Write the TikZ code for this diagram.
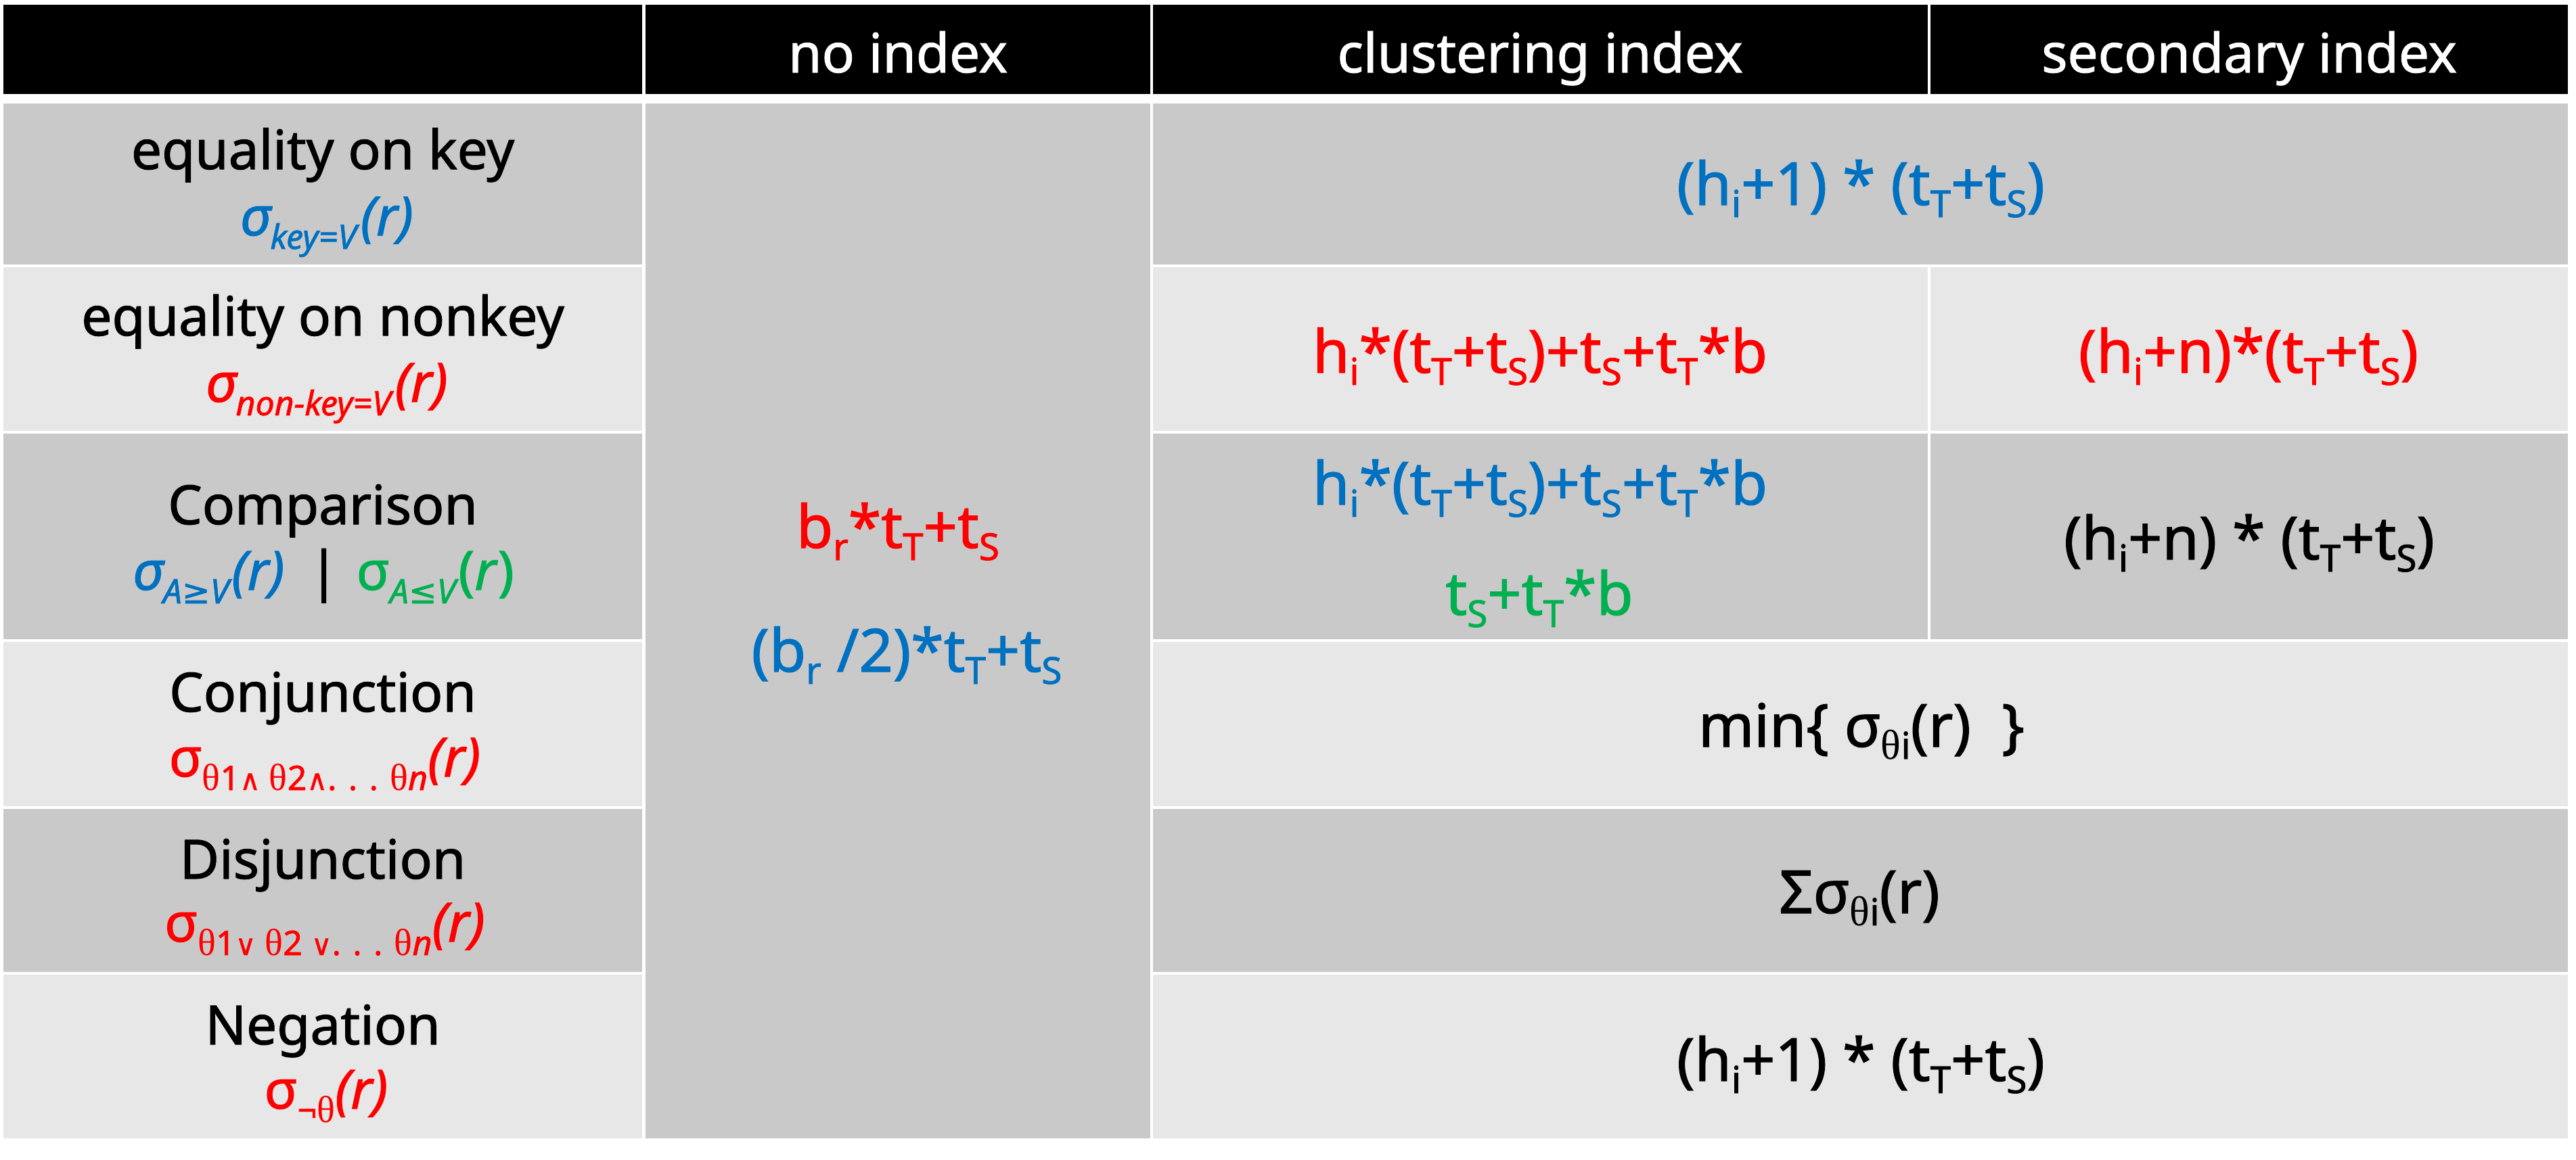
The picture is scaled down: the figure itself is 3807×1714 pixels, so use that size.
\documentclass[tikz,border=0pt]{standalone}
\usepackage{fontspec}
\setmainfont{Noto Sans}[FakeBold=1.4]
\newfontfamily\serf{Liberation Serif}
\newfontfamily\dvs{DejaVu Sans}[FakeBold=1.0]
\definecolor{cblue}{HTML}{0070C0}
\definecolor{cred}{HTML}{FF0000}
\definecolor{cgreen}{HTML}{00B050}
\definecolor{cdark}{HTML}{C9C9C9}
\definecolor{clight}{HTML}{E7E7E7}
\newcommand\fsz[1]{\fontsize{#1}{#1}\selectfont}
\newcommand\dn[1]{\raisebox{-18pt}{\fsz{55}#1}}
\newcommand\lo[1]{\raisebox{-20pt}{\fsz{50}#1}}
\newcommand\myand{{\dvs\fsz{42}∧}}
\newcommand\myor{{\dvs\fsz{42}∨}}
\tikzset{
  hdrcell/.style={fill=black},
  dk/.style={fill=cdark},
  lt/.style={fill=clight},
  hdr/.style={anchor=base,inner sep=0pt,text=white,font=\fsz{80}},
  lab/.style={anchor=base,inner sep=0pt,font=\fsz{80}},
  frm/.style={anchor=base,inner sep=0pt,font=\fsz{88}}
}
\begin{document}
\begin{tikzpicture}[x=1pt,y=-1pt]
\useasboundingbox (0,0) rectangle (3807,1714);
\fill[white] (0,0) rectangle (3807,1714);
% header
\fill[hdrcell] (5,7) rectangle (949,139);
\fill[hdrcell] (954,7) rectangle (1700,139);
\fill[hdrcell] (1704,7) rectangle (2849,139);
\fill[hdrcell] (2853,7) rectangle (3795,139);
% column 1
\fill[dk] (5,153) rectangle (949,391);
\fill[lt] (5,395) rectangle (949,637);
\fill[dk] (5,641) rectangle (949,945);
\fill[lt] (5,949) rectangle (949,1192);
\fill[dk] (5,1196) rectangle (949,1437);
\fill[lt] (5,1441) rectangle (949,1683);
% column 2
\fill[dk] (954,153) rectangle (1700,1683);
% columns 3-4
\fill[dk] (1704,153) rectangle (3795,391);
\fill[lt] (1704,395) rectangle (2849,637);
\fill[lt] (2853,395) rectangle (3795,637);
\fill[dk] (1704,641) rectangle (2849,945);
\fill[dk] (2853,641) rectangle (3795,945);
\fill[lt] (1704,949) rectangle (3795,1192);
\fill[dk] (1704,1196) rectangle (3795,1437);
\fill[lt] (1704,1441) rectangle (3795,1683);
% header texts
\node[hdr] (hno) at (1327,107) {no index};
\node[hdr] (hcl) at (2276,107) {clustering index};
\node[hdr] (hse) at (3324,107) {secondary index};
% row labels
\node[lab] (l1) at (477,250) {equality on key};
\node[lab,text=cblue] (f1) at (483,348) {\itshape σ\lo{key=V}\hspace{6pt}(r)};
\node[lab] (l2) at (477,496) {equality on nonkey};
\node[lab,text=cred] (f2) at (483,594) {\itshape σ\lo{non-key=V}\hspace{6pt}(r)};
\node[lab] (l3) at (477,775) {Comparison};
\node[lab] (f3) at (478,872) {{\color{cblue}\itshape σ\lo{A{\dvs\itshape ≥}V}\hspace{4pt}(r)}\hspace{36pt}|\hspace{26pt}{\color{cgreen}σ\lo{\itshape A{\dvs\itshape ≤}V}\hspace{4pt}(\textit{r})}};
\node[lab] (l4) at (477,1052) {Conjunction};
\node[lab,text=cred] (f4) at (480,1148) {σ\lo{{\serf\fsz{56}θ}1\myand\ {\serf\fsz{56}θ}2\myand. . . {\serf\fsz{56}θ}\textit{n}}\textit{(r)}};
\node[lab] (l5) at (477,1299) {Disjunction};
\node[lab,text=cred] (f5) at (480,1392) {σ\lo{{\serf\fsz{56}θ}1\myor\ {\serf\fsz{56}θ}2 \myor. . . {\serf\fsz{56}θ}\textit{n}}\textit{(r)}};
\node[lab] (l6) at (477,1544) {Negation};
\node[lab,text=cred] (f6) at (482,1639) {σ\lo{¬{\serf\fsz{56}θ}}\textit{(r)}};
% no index column
\node[frm,text=cred] (n1) at (1327,810) {b\dn{r}*t\dn{T}+t\dn{S}};
\node[frm,text=cblue] (n2) at (1340,993) {(b\dn{r} /2)*t\dn{T}+t\dn{S}};
% clustering / secondary
\node[frm,text=cblue] (c1) at (2750,303) {(h\dn{i}+1) * (t\dn{T}+t\dn{S})};
\node[frm,text=cred] (c2) at (2276,551) {h\dn{i}*(t\dn{T}+t\dn{S})+t\dn{S}+t\dn{T}*b};
\node[frm,text=cred] (s2) at (3323,551) {(h\dn{i}+n)*(t\dn{T}+t\dn{S})};
\node[frm,text=cblue] (c3a) at (2276,746) {h\dn{i}*(t\dn{T}+t\dn{S})+t\dn{S}+t\dn{T}*b};
\node[frm,text=cgreen] (c3b) at (2275,909) {t\dn{S}+t\dn{T}*b};
\node[frm] (s3) at (3324,827) {(h\dn{i}+n) * (t\dn{T}+t\dn{S})};
\node[frm] (c4) at (2751,1104) {min\{ σ\dn{{\serf\fsz{62}θ}i}(r)\ \ \}};
\node[frm] (c5) at (2748,1350) {Σσ\dn{{\serf\fsz{62}θ}i}(r)};
\node[frm] (c6) at (2750,1598) {(h\dn{i}+1) * (t\dn{T}+t\dn{S})};
\end{tikzpicture}
\end{document}
